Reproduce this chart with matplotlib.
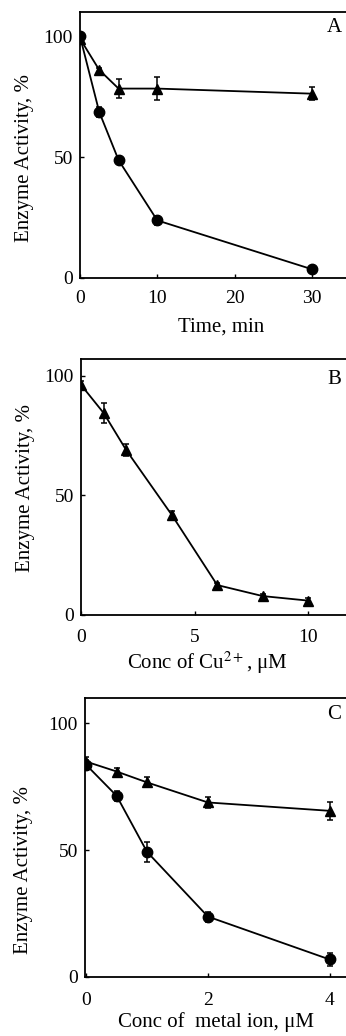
import numpy as np
import matplotlib
matplotlib.use('Agg')
import matplotlib.pyplot as plt

plt.rcParams['font.family'] = ['Liberation Serif', 'DejaVu Serif']
plt.rcParams['mathtext.fontset'] = 'stix'

# panel A: time course
time_a = [0, 2.5, 5, 10, 30]
circ_a = [100, 68.6, 48.7, 23.8, 3.6]
circ_a_err = [1.0, 2.0, 1.0, 2.0, 1.5]
tri_a = [99, 86, 78.3, 78.3, 76.2]
tri_a_err = [1.0, 1.0, 3.8, 4.8, 2.8]

# panel B: Cu2+ concentration
conc_b = [0, 1, 2, 4, 6, 8, 10]
tri_b = [96.2, 84.4, 68.8, 41.8, 12.5, 7.9, 6.0]
tri_b_err = [1.5, 4.0, 2.5, 1.5, 1.0, 1.0, 1.0]

# panel C: metal ion concentration
conc_c = [0, 0.5, 1, 2, 4]
circ_c = [83.6, 71.4, 49.3, 23.8, 6.9]
circ_c_err = [2.0, 2.0, 4.0, 2.0, 2.5]
tri_c = [84.9, 81, 76.7, 68.8, 65.5]
tri_c_err = [2.0, 1.5, 2.0, 2.0, 3.5]

fig = plt.figure(figsize=(3.46, 10.36), dpi=100)

axA = fig.add_axes([0.231, 0.7317, 0.769, 0.2568])
axB = fig.add_axes([0.234, 0.4064, 0.766, 0.2471])
axC = fig.add_axes([0.2457, 0.057, 0.7543, 0.2693])

kw = dict(color='black', lw=1.3, ms=7.5, capsize=2.5, elinewidth=1.1, capthick=1.1)

axA.errorbar(time_a, circ_a, yerr=circ_a_err, marker='o', **kw)
axA.errorbar(time_a, tri_a, yerr=tri_a_err, marker='^', **kw)
axB.errorbar(conc_b, tri_b, yerr=tri_b_err, marker='^', **kw)
axC.errorbar(conc_c, circ_c, yerr=circ_c_err, marker='o', **kw)
axC.errorbar(conc_c, tri_c, yerr=tri_c_err, marker='^', **kw)

axA.set_xlim(0, 34.4)
axA.set_ylim(0, 110)
axA.set_xticks([0, 10, 20, 30])
axB.set_xlim(0, 11.67)
axB.set_ylim(0, 107)
axB.set_xticks([0, 5, 10])
axC.set_xlim(-0.02, 4.27)
axC.set_ylim(0, 110)
axC.set_xticks([0, 2, 4])

for ax in (axA, axB, axC):
    ax.set_yticks([0, 50, 100])
    ax.spines['right'].set_visible(False)
    for s in ('left', 'bottom', 'top'):
        ax.spines[s].set_linewidth(1.3)
    ax.tick_params(direction='in', length=3, width=1, labelsize=14, top=False, right=False)
    ax.tick_params(axis='y', pad=5)
    ax.tick_params(axis='x', pad=10)
    ax.set_ylabel('Enzyme Activity, %', fontsize=15, va='center')
    for lab in ax.get_xticklabels() + ax.get_yticklabels():
        lab.set_clip_on(False)

axA.tick_params(axis='x', pad=9)
axC.tick_params(axis='x', pad=11)

axA.set_xlabel('Time, min', fontsize=15, va='center')
axB.set_xlabel('Conc of Cu$^{2+}$, \u03bcM', fontsize=15, va='center')
axC.set_xlabel('Conc of  metal ion, \u03bcM', fontsize=15, va='center')

axA.yaxis.set_label_coords(-0.207, 0.451)
axB.yaxis.set_label_coords(-0.211, 0.496)
axC.yaxis.set_label_coords(-0.234, 0.384)
axA.xaxis.set_label_coords(0.53, -0.184)
axB.xaxis.set_label_coords(0.475, -0.1875)
axC.xaxis.set_label_coords(0.50, -0.163)

axA.text(0.955, 0.94, 'A', transform=axA.transAxes, fontsize=15, ha='center', va='center')
axB.text(0.955, 0.92, 'B', transform=axB.transAxes, fontsize=15, ha='center', va='center')
axC.text(0.955, 0.94, 'C', transform=axC.transAxes, fontsize=15, ha='center', va='center')

fig.savefig('out.png', dpi=100)
